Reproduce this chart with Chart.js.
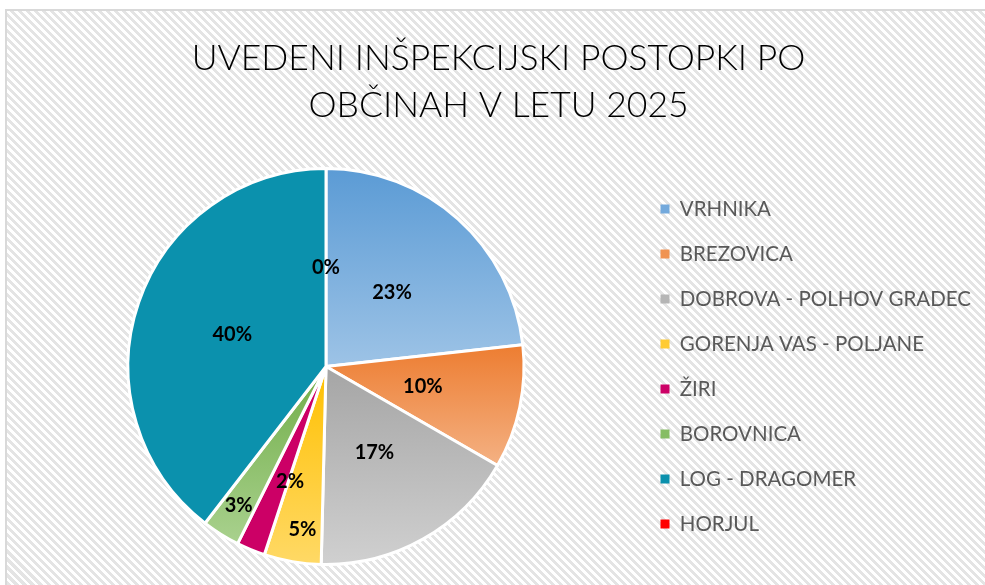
<!DOCTYPE html>
<html>
<head>
<meta charset="utf-8">
<script src="https://cdn.jsdelivr.net/npm/chart.js@4.4.1/dist/chart.umd.min.js"></script>
<style>
  html, body { margin: 0; padding: 0; background: #ffffff; overflow: hidden; }
  #frame {
    position: absolute; left: 5px; top: 9px; width: 1010px; height: 610px;
    border: 2px solid #d9d9d9;
    background: repeating-linear-gradient(45deg, #ffffff 0px, #ffffff 2.8px, #e4e4e4 2.8px, #e4e4e4 5.66px);
  }
  #c { position: absolute; left: 0; top: 0; }
</style>
</head>
<body>
<div id="frame"></div>
<canvas id="c" width="985" height="585"></canvas>
<script>
// ---- data ----
const titleLines = ['UVEDENI INŠPEKCIJSKI POSTOPKI PO', 'OBČINAH V LETU 2025'];
const categories = ['VRHNIKA', 'BREZOVICA', 'DOBROVA - POLHOV GRADEC', 'GORENJA VAS - POLJANE', 'ŽIRI', 'BOROVNICA', 'LOG - DRAGOMER', 'HORJUL'];
const values = [30, 13, 22, 6, 3, 4, 51, 0];

// ---- styles ----
const topColors    = ['#5B9BD5', '#ED7D31', '#A5A5A5', '#FFC000', '#CC0066', '#70AD47', '#0B91AD', '#FF0000'];
const bottomColors = ['#9DC3E6', '#F4B183', '#D0D0D0', '#FFD966', '#CC0066', '#A9D18E', '#0B91AD', '#FF0000'];
const legendColors = ['#73A9DC', '#F09352', '#B5B5B5', '#FFCB33', '#CC0066', '#86BD64', '#0B91AD', '#FF0000'];
const labelRadius  = [0.5, 0.5, 0.5, 0.83, 0.61, 0.83, 0.5, 0.5];
const labelShift   = [0, 0, 0, -1.5, -5, 0, 0, 0]; // degrees

const gradientPlugin = {
  id: 'sliceGradient',
  beforeDatasetsDraw(chart) {
    const ctx = chart.ctx;
    const meta = chart.getDatasetMeta(0);
    meta.data.forEach((arc, i) => {
      const p = arc.getProps(['x', 'y', 'startAngle', 'endAngle', 'outerRadius'], true);
      const ys = [p.y, p.y + p.outerRadius * Math.sin(p.startAngle), p.y + p.outerRadius * Math.sin(p.endAngle)];
      for (let k = -2; k <= 2; k++) {
        const b = Math.PI / 2 + 2 * Math.PI * k;
        const t = -Math.PI / 2 + 2 * Math.PI * k;
        if (b >= p.startAngle && b <= p.endAngle) ys.push(p.y + p.outerRadius);
        if (t >= p.startAngle && t <= p.endAngle) ys.push(p.y - p.outerRadius);
      }
      const y0 = Math.min(...ys), y1 = Math.max(...ys);
      const g = ctx.createLinearGradient(0, y0, 0, Math.max(y1, y0 + 1));
      g.addColorStop(0, topColors[i]);
      g.addColorStop(1, bottomColors[i]);
      arc.options = Object.assign({}, arc.options, { backgroundColor: g });
    });
  }
};

const labelPlugin = {
  id: 'pctLabels',
  afterDatasetsDraw(chart) {
    const ctx = chart.ctx;
    const meta = chart.getDatasetMeta(0);
    const data = chart.data.datasets[0].data;
    const total = data.reduce((a, b) => a + b, 0);
    ctx.save();
    ctx.font = 'bold 20px Lato';
    ctx.fillStyle = '#000000';
    ctx.textAlign = 'center';
    ctx.textBaseline = 'middle';
    meta.data.forEach((arc, i) => {
      const p = arc.getProps(['x', 'y', 'startAngle', 'endAngle', 'outerRadius'], true);
      const mid = (p.startAngle + p.endAngle) / 2 + labelShift[i] * Math.PI / 180;
      const r = p.outerRadius * labelRadius[i];
      const txt = Math.round(data[i] / total * 100) + '%';
      ctx.fillText(txt, p.x + r * Math.cos(mid), p.y + r * Math.sin(mid));
    });
    ctx.restore();
  }
};

new Chart(document.getElementById('c'), {
  type: 'pie',
  data: {
    labels: categories,
    datasets: [{
      data: values,
      backgroundColor: topColors,
      borderColor: '#ffffff',
      borderWidth: 3
    }]
  },
  options: {
    responsive: false,
    devicePixelRatio: 1,
    animation: false,
    layout: { padding: { top: 0, left: 16, right: 4, bottom: 19 } },
    plugins: {
      title: {
        display: true,
        text: titleLines,
        color: '#000000',
        font: { family: 'Lato', weight: '300', size: 35.5, lineHeight: 47 / 35.5 },
        padding: { top: 35, bottom: 38 }
      },
      legend: {
        position: 'right',
        align: 'center',
        fullSize: false,
        labels: {
          color: '#595959',
          font: { family: 'Lato', size: 20.5 },
          boxWidth: 9,
          boxHeight: 9,
          padding: 24.5,
          generateLabels(chart) {
            const base = Chart.overrides.pie.plugins.legend.labels.generateLabels(chart);
            return base.map((it, i) => Object.assign(it, {
              fillStyle: legendColors[i], strokeStyle: 'rgba(0,0,0,0)', lineWidth: 0
            }));
          }
        }
      },
      tooltip: { enabled: false }
    }
  },
  plugins: [gradientPlugin, labelPlugin]
});
</script>
</body>
</html>
